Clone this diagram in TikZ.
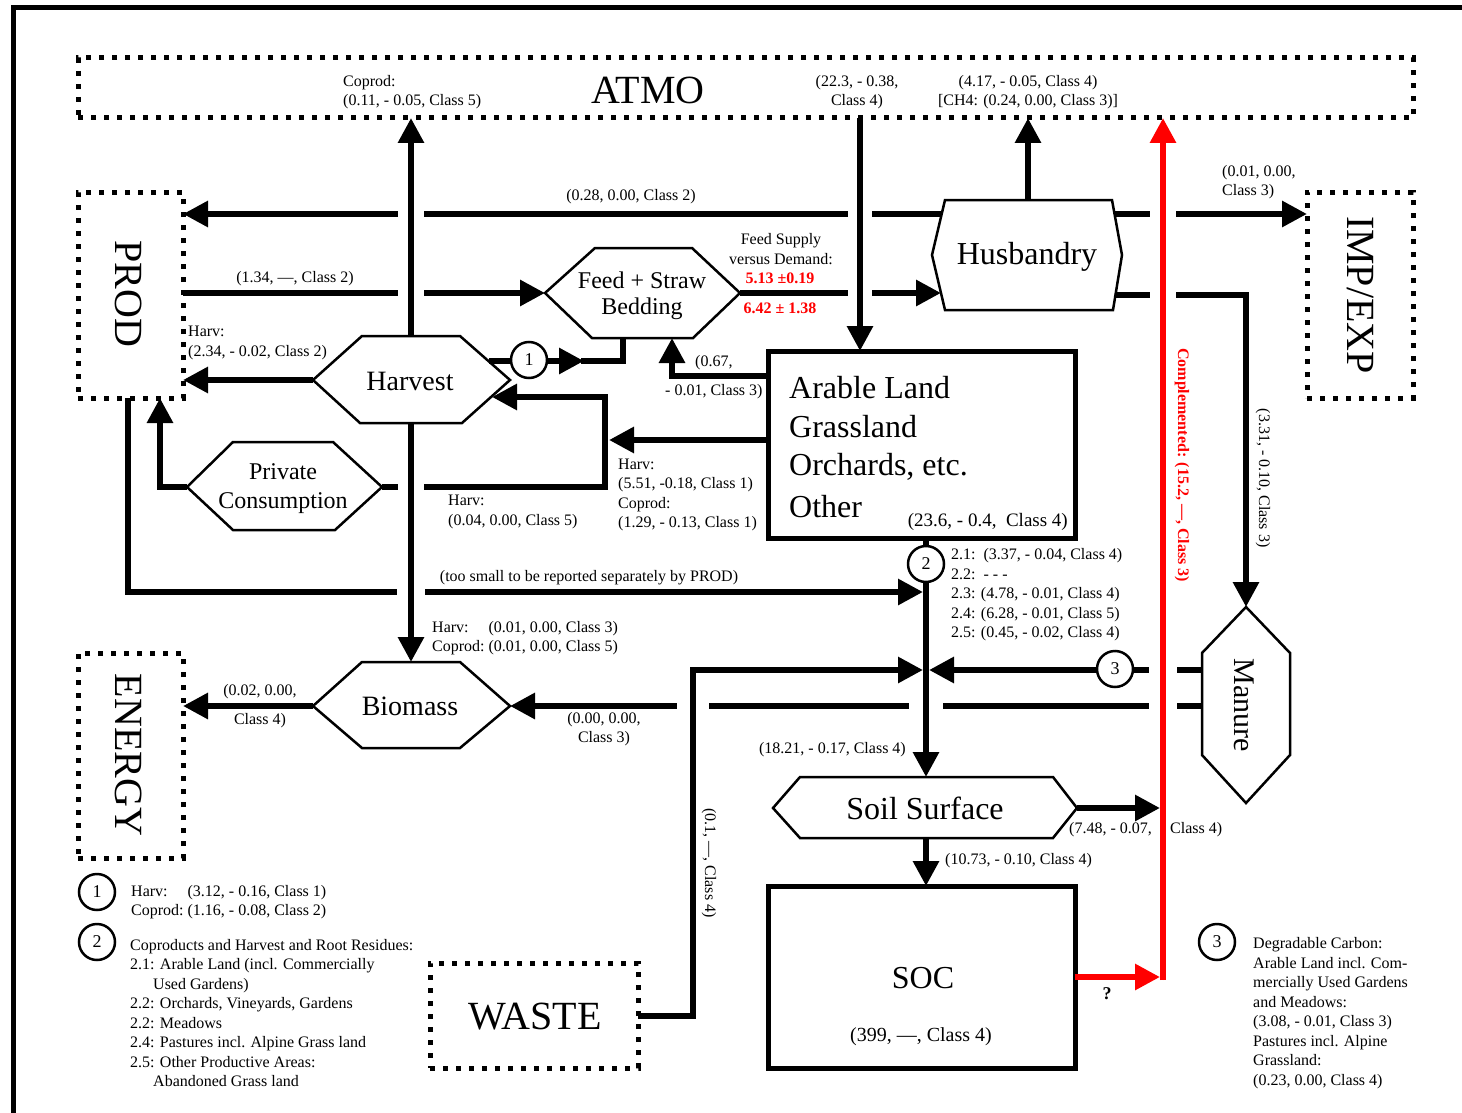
\documentclass[tikz,border=0pt]{standalone}
\usepackage{fontspec}
\setmainfont{Liberation Serif}
\usetikzlibrary{arrows.meta}
\newcommand{\flowgap}[3]{\fill[white] (#1,#2) ++(-#3,-7) rectangle ++(2*#3,14);}
\begin{document}
\begin{tikzpicture}[x=1pt,y=-1pt,
  flow/.style={line width=6pt},
  arr/.style={line width=6pt,-{Triangle[length=25pt,width=25pt]}},
  redarr/.style={arr,draw=red,fill=red},
  dotbox/.style={draw,line width=5pt,dash pattern=on 5pt off 8pt,inner sep=0pt,outer sep=0pt},
  solidbox/.style={draw,line width=5pt,inner sep=0pt,outer sep=0pt},
  shapeline/.style={draw,line width=2.5pt,fill=white},
  lbl/.style={font=\fontsize{16}{19.5}\selectfont,inner sep=0pt},
  redlbl/.style={font=\fontsize{16}{19.5}\selectfont\bfseries,text=red,inner sep=0pt},
  bigt/.style={font=\fontsize{40}{48}\selectfont,inner sep=0pt},
  boxt/.style={font=\fontsize{32}{39}\selectfont,inner sep=0pt},
  hext/.style={font=\fontsize{28}{34}\selectfont,inner sep=0pt},
  smallhext/.style={font=\fontsize{24}{29}\selectfont,inner sep=0pt},
  circ/.style={draw,circle,line width=2.5pt,minimum size=36pt,inner sep=0pt,fill=white,font=\fontsize{18}{20}\selectfont},
]
\useasboundingbox (0,0) rectangle (1462,1113);
% frame
\draw[line width=5pt] (13,1120) -- (13,8) -- (1470,8);

% ---------- boxes ----------
\node[dotbox,minimum width=1335pt,minimum height=60pt] (atmo) at (745.5,88) {};
\node[dotbox,minimum width=105pt,minimum height=206pt] (prod) at (130.5,295) {};
\node[dotbox,minimum width=106pt,minimum height=206pt] (impexp) at (1360,295) {};
\node[dotbox,minimum width=105pt,minimum height=205pt] (energy) at (130.5,755.5) {};
\node[dotbox,minimum width=208pt,minimum height=105pt] (waste) at (534,1015.5) {};
\node[solidbox,minimum width=307pt,minimum height=187pt] (arable) at (921.5,444.5) {};
\node[solidbox,minimum width=307pt,minimum height=182pt] (soc) at (921.5,977) {};

\node[bigt] (atmoT) at (648,90) {ATMO};
\node[bigt,rotate=-90] (prodT) at (129,294) {PROD};
\node[bigt,rotate=-90] (impexpT) at (1360,295) {IMP/EXP};
\node[bigt,rotate=-90] (energyT) at (129,755) {ENERGY};
\node[bigt] (wasteT) at (535,1017) {WASTE};

% ---------- shapes ----------
\path[shapeline] (313,380) -- (362,336) -- (460,336) -- (510,380) -- (462,423) -- (360,423) -- cycle;
\node[hext] (harvest) at (410,381) {Harvest};
\path[shapeline] (313,706) -- (362,662) -- (460,662) -- (510,706) -- (460,748) -- (362,748) -- cycle;
\node[hext] (biomass) at (410,706) {Biomass};
\path[shapeline] (187,487) -- (233,442) -- (333,442) -- (382,487) -- (335,530) -- (233,530) -- cycle;
\node[smallhext] (privT1) at (283,472) {Private};
\node[smallhext] (privT2) at (283,503) {Consumption};
\path[shapeline] (545,293) -- (595,248) -- (692,248) -- (740,293) -- (693,338) -- (592,338) -- cycle;
\node[smallhext] (feedT1) at (642,280) {Feed + Straw};
\node[smallhext] (feedT2) at (642,309) {Bedding};
\path[shapeline] (945,200) -- (1112,200) -- (1122,255) -- (1113,310) -- (945,310) -- (932,255) -- cycle;
\node[boxt] (husbandry) at (1027,257) {Husbandry};
\path[shapeline] (773,808) -- (800,777) -- (1053,777) -- (1077,808) -- (1053,838) -- (800,838) -- cycle;
\node[boxt] (soil) at (925,808) {Soil Surface};
\path[shapeline] (1246,607) -- (1290,653) -- (1290,755) -- (1246,803) -- (1202,755) -- (1202,653) -- cycle;
\node[font=\fontsize{30}{36}\selectfont,inner sep=0pt,rotate=-90] (manure) at (1244,705) {Manure};

% ---------- named coordinates ----------
\coordinate (husbW1) at (942,214);
\coordinate (husbW2) at (941,293);
\coordinate (husbE1) at (1114,214);
\coordinate (husbE2) at (1116,295);
\coordinate (husbN) at (1028,200);
\coordinate (harvN) at (411,336);
\coordinate (harvS) at (411,423);
\coordinate (harvW) at (313,380);
\coordinate (harvE1) at (489,361);
\coordinate (harvE2) at (492,397);
\coordinate (bioN) at (411,662);
\coordinate (bioW) at (313,706);
\coordinate (bioE) at (510,706);
\coordinate (privW) at (187,487);
\coordinate (privE) at (382,487);
\coordinate (feedW) at (545,293);
\coordinate (feedE) at (740,293);
\coordinate (feedS1) at (623,338);
\coordinate (feedS2) at (672,338);
\coordinate (soilN) at (926,777);
\coordinate (soilS) at (926,838);
\coordinate (soilE) at (1077,808);
\coordinate (manN) at (1246,607);
\coordinate (manW1) at (1202,670);
\coordinate (manW2) at (1202,706);
\coordinate (split) at (605,440);
\coordinate (prodS) at (128,398);
\coordinate (prodS2) at (160,398);
\coordinate (jctA) at (923,592);
\coordinate (jctB) at (923,670);
\coordinate (jctC) at (929,670);
\coordinate (arN) at (860,351);

% ---------- connectors that get interrupted ----------
\draw[arr] (husbW1) -- (husbW1 -| prod.east);
\draw[arr] (husbE1) -- (husbE1 -| impexp.west);
\draw[arr] (feedW -| prod.east) -- (feedW);
\draw[arr] (feedE) -- (husbW2);
\draw[arr] (husbE2) -- (husbE2 -| manN) -- (manN);
\draw[arr] (privE) -- (privE -| split) -- (split |- harvE2) -- (harvE2);
\draw[arr] (prodS) -- (prodS |- jctA) -- (jctA);
\draw[arr] (manW1) -- (jctC);
\draw[arr] (manW2) -- (bioE);

% gaps (line bridges)
\flowgap{411}{214}{13}
\flowgap{411}{293}{13}
\flowgap{411}{487}{13}
\flowgap{411}{592}{14}
\flowgap{860}{214}{12}
\flowgap{860}{293}{12}
\flowgap{1163}{214}{13}
\flowgap{1163}{295}{13}
\flowgap{1163}{670}{14}
\flowgap{1163}{706}{14}
\flowgap{926}{706}{17}
\flowgap{693}{706}{16}

% ---------- remaining connectors ----------
\draw[arr] (harvN) -- (harvN |- atmo.south);
\draw[arr] (harvS) -- (bioN);
\draw[arr] (arN |- atmo.south) -- (arN);
\draw[arr] (husbN) -- (husbN |- atmo.south);
\draw[arr] (arable.south -| soilN) -- (soilN);
\draw[arr] (waste.east) -- (693,1015.5) -- (693,670) -- (jctB);
\draw[arr] (harvW) -- (harvW -| prod.east);
\draw[arr] (harvE1) -- (584,361);
\draw[flow] (581,361) -- (623,361) -- (feedS1);
\draw[arr] (arable.west |- 0,376) -- (672,376) -- (feedS2);
\draw[arr] (arable.west |- split) -- (609,440);
\draw[arr] (privW) -- (prodS2 |- privW) -- (prodS2);
\draw[arr] (bioW) -- (bioW -| energy.east);
\draw[arr] (soilS) -- (soilS |- soc.north);
\draw[arr] (soilE) -- (1160,808);
\draw[redarr] (soc.east |- 0,977) -- (1160,977);
\draw[redarr] (1163,980) -- (1163,0 |- atmo.south);

% circles
\node[circ] (c1) at (529,360) {1};
\node[circ] (c2) at (926,564) {2};
\node[circ] (c3) at (1115,669) {3};

% ---------- box texts ----------
\node[boxt,anchor=west] (arT1) at (789,388) {Arable Land};
\node[boxt,anchor=west] (arT2) at (789,427) {Grassland};
\node[boxt,anchor=west] (arT3) at (789,467) {Orchards, etc.};
\node[boxt,anchor=west] (arT4) at (789,507) {Other};
\node[font=\fontsize{19}{23}\selectfont,inner sep=0pt,anchor=east] (arV) at (1068,522) {(23.6, - 0.4,\ \ Class 4)};
\node[font=\fontsize{32}{39}\selectfont,inner sep=0pt] (socT) at (923,978) {SOC};
\node[font=\fontsize{20}{24}\selectfont,inner sep=0pt] (socV) at (921,1037) {(399, —, Class 4)};

% ---------- labels ----------
\node[lbl,align=left,anchor=west] (l1) at (343,92) {Coprod:\\(0.11, - 0.05, Class 5)};
\node[lbl,align=center] (l2) at (857,92) {(22.3, - 0.38,\\Class 4)};
\node[lbl,align=center] (l3) at (1028,92) {(4.17, - 0.05, Class 4)\\{}[CH4: (0.24, 0.00, Class 3)]};
\node[lbl] (l4) at (631,197) {(0.28, 0.00, Class 2)};
\node[lbl,align=left,anchor=west] (l5) at (1222,182) {(0.01, 0.00,\\Class 3)};
\node[lbl] (l6) at (295,279) {(1.34, —, Class 2)};
\node[lbl,align=left,anchor=west] (l7) at (188,343) {Harv:\\(2.34, - 0.02, Class 2)};
\node[lbl,align=center] (l8) at (781,249) {Feed Supply\\versus Demand:};
\node[redlbl] (l9) at (780,278) {5.13 ±0.19};
\node[redlbl] (l10) at (780,308) {6.42 ± 1.38};
\node[lbl,anchor=west] (l11) at (695,363) {(0.67,};
\node[lbl,anchor=west] (l12) at (665,392) {- 0.01, Class 3)};
\node[lbl,align=left,anchor=west] (l13) at (618,495) {Harv:\\(5.51, -0.18, Class 1)\\Coprod:\\(1.29, - 0.13, Class 1)};
\node[lbl,align=left,anchor=west] (l14) at (448,512) {Harv:\\(0.04, 0.00, Class 5)};
\node[lbl] (l15) at (589,578) {(too small to be reported separately by PROD)};
\node[lbl,align=left,anchor=west] (l16) at (951,595) {2.1:\ \ (3.37, - 0.04, Class 4)\\2.2:\ \ - - -\\2.3: (4.78, - 0.01, Class 4)\\2.4: (6.28, - 0.01, Class 5)\\2.5: (0.45, - 0.02, Class 4)};
\node[lbl,anchor=west] (l17) at (432,638) {\begin{tabular}{@{}l@{\ }l@{}}Harv: & (0.01, 0.00, Class 3)\\Coprod: & (0.01, 0.00, Class 5)\end{tabular}};
\node[lbl] (l18) at (260,692) {(0.02, 0.00,};
\node[lbl] (l19) at (260,721) {Class 4)};
\node[lbl] (l20) at (604,720) {(0.00, 0.00,};
\node[lbl] (l21) at (604,739) {Class 3)};
\node[lbl,anchor=east] (l22) at (906,750) {(18.21, - 0.17, Class 4)};
\node[lbl,anchor=west] (l23) at (945,861) {(10.73, - 0.10, Class 4)};
\node[lbl,anchor=west] (l24) at (1069,830) {(7.48, - 0.07,};
\node[lbl,anchor=west] (l25) at (1170,830) {Class 4)};
\node[font=\fontsize{18}{22}\selectfont\bfseries,inner sep=0pt] (l26) at (1107,994) {?};
\node[lbl,rotate=-90] (l27) at (1263,478) {(3.31, - 0.10, Class 3)};
\node[redlbl,rotate=-90] (l28) at (1182,465) {Complemented: (15.2, —, Class 3)};
\node[lbl,rotate=-90] (l29) at (709,863) {(0.1, —, Class 4)};

% ---------- legends ----------
\node[circ] (g1) at (97,892) {1};
\node[lbl,anchor=west] (g1T) at (131,902) {\begin{tabular}{@{}l@{\ }l@{}}Harv: & (3.12, - 0.16, Class 1)\\Coprod: & (1.16, - 0.08, Class 2)\end{tabular}};
\node[circ] (g2) at (97,942) {2};
\node[lbl,align=left,anchor=west] (g2T) at (130,1013) {Coproducts and Harvest and Root Residues:\\2.1: Arable Land (incl. Commercially\\\hspace*{23pt}Used Gardens)\\2.2: Orchards, Vineyards, Gardens\\2.2: Meadows\\2.4: Pastures incl. Alpine Grass land\\2.5: Other Productive Areas:\\\hspace*{23pt}Abandoned Grass land};
\node[circ] (g3) at (1217,942) {3};
\node[lbl,align=left,anchor=west] (g3T) at (1253,1013) {Degradable Carbon:\\Arable Land incl. Com-\\mercially Used Gardens\\and Meadows:\\(3.08, - 0.01, Class 3)\\Pastures incl. Alpine\\Grassland:\\(0.23, 0.00, Class 4)};
\end{tikzpicture}
\end{document}
